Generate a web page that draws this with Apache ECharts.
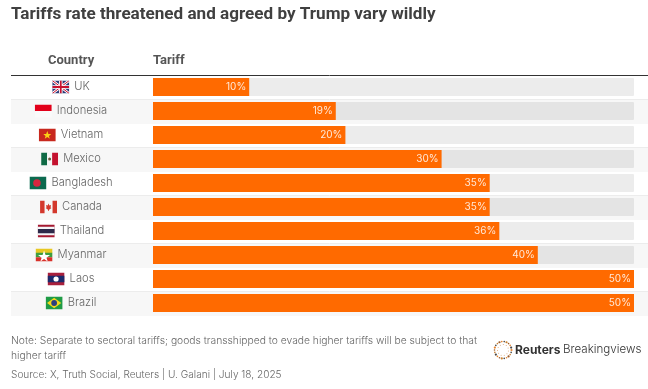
<!DOCTYPE html>
<html><head><meta charset="utf-8">
<script src="https://cdn.jsdelivr.net/npm/echarts@6/dist/echarts.min.js"></script>
<style>html,body{margin:0;padding:0;background:#fff}#c{width:648px;height:389px}</style>
</head><body><div id="c"></div>
<script>
const countries = ['UK','Indonesia','Vietnam','Mexico','Bangladesh','Canada','Thailand','Myanmar','Laos','Brazil'];
const tariffs = [10,19,20,30,35,35,36,40,50,50];
const stripes = [0,1,0,1,0,1,0,1,0,1];
const flagKeys = ['uk','id','vn','mx','bd','ca','th','mm','la','br'];

function svg(inner){
  return 'data:image/svg+xml;charset=utf-8,'+encodeURIComponent('<svg xmlns="http://www.w3.org/2000/svg" width="17" height="13" viewBox="0 0 17 13">'+inner+'</svg>');
}
const flags = {
 uk: svg('<rect width="17" height="13" fill="#2b3a78"/><path d="M0 0L17 13M17 0L0 13" stroke="#fff" stroke-width="2.6"/><path d="M0 0L17 13M17 0L0 13" stroke="#c8102e" stroke-width="1"/><path d="M8.5 0V13M0 6.5H17" stroke="#fff" stroke-width="3.6"/><path d="M8.5 0V13M0 6.5H17" stroke="#c8102e" stroke-width="1.8"/>'),
 id: svg('<rect width="17" height="6.5" fill="#e2001a"/><rect y="6.5" width="17" height="6.5" fill="#fafafa"/>'),
 vn: svg('<rect width="17" height="13" fill="#c8281e"/><path d="M8.5 2.6L9.6 5.5L12.5 5.5L10.2 7.4L11 10.3L8.5 8.6L6 10.3L6.8 7.4L4.5 5.5L7.4 5.5Z" fill="#fbd116"/>'),
 mx: svg('<rect width="6" height="13" fill="#0f6a45"/><rect x="6" width="5" height="13" fill="#f6f6f6"/><rect x="11" width="6" height="13" fill="#c4122f"/><circle cx="8.5" cy="6.5" r="1.5" fill="#6b5a3a"/>'),
 bd: svg('<rect width="17" height="13" fill="#0c6a4f"/><circle cx="7.5" cy="6.5" r="3.8" fill="#d6263f"/>'),
 ca: svg('<rect width="17" height="13" fill="#f6f6f6"/><rect width="4.5" height="13" fill="#d3382c"/><rect x="12.5" width="4.5" height="13" fill="#d3382c"/><path d="M8.5 3L9.4 5L11 4.6L10.5 7L11.4 7.6L9 9.2L8.8 10.4H8.2L8 9.2L5.6 7.6L6.5 7L6 4.6L7.6 5Z" fill="#d3382c"/>'),
 th: svg('<rect width="17" height="13" fill="#a51931"/><rect y="2.2" width="17" height="8.6" fill="#f4f5f8"/><rect y="4.4" width="17" height="4.3" fill="#2d2a4a"/>'),
 mm: svg('<rect width="17" height="4.4" fill="#e8c822"/><rect y="4.3" width="17" height="4.4" fill="#3f9d3f"/><rect y="8.7" width="17" height="4.3" fill="#d8312a"/><path d="M8.5 2L10 6.5L14.5 6.6L10.9 9.2L12.2 13L8.5 10.6L4.8 13L6.1 9.2L2.5 6.6L7 6.5Z" fill="#fff"/>'),
 la: svg('<rect width="17" height="13" fill="#a81f3c"/><rect y="3.2" width="17" height="6.6" fill="#1b2a6b"/><circle cx="8.5" cy="6.5" r="2.6" fill="#fff"/>'),
 br: svg('<rect width="17" height="13" fill="#1f9b45"/><path d="M8.5 1.2L15.6 6.5L8.5 11.8L1.4 6.5Z" fill="#f4d81c"/><circle cx="8.5" cy="6.5" r="2.9" fill="#2b3f7e"/>')
};
const rich = {name:{fontFamily:'Inter',fontSize:11.2,fontWeight:300,color:'#666',padding:[0,0,0,5],lineHeight:16}};
flagKeys.forEach(k=>{rich[k]={width:17,height:13,backgroundColor:{image:flags[k]}};});

// decorative logo ring
const ring=[];
const ringColors=['#e8832a','#444','#c9812f','#9a5a2a'];
for(let i=0;i<22;i++){
  const a=i/22*Math.PI*2;
  ring.push({type:'circle',shape:{cx:503+8.5*Math.cos(a),cy:350+8.5*Math.sin(a),r:i%3==0?1.1:0.8},style:{fill:ringColors[i%4]},silent:true});
  if(i%2==0){const b=a+0.2;ring.push({type:'circle',shape:{cx:503+5.5*Math.cos(b),cy:350+5.5*Math.sin(b),r:0.5},style:{fill:'#d8a070'},silent:true});}
}

const chart = echarts.init(document.getElementById('c'),null,{renderer:'canvas'});
chart.setOption({
  animation:false,
  backgroundColor:'#fff',
  title:[
    {text:'Tariffs rate threatened and agreed by Trump vary wildly',left:11,top:6,padding:0,textStyle:{fontFamily:'Roboto',fontSize:17.1,fontWeight:700,color:'#404040'}},
    {text:'Country',left:48,top:54,padding:0,textStyle:{fontFamily:'Roboto',fontSize:13,fontWeight:700,color:'#555'}},
    {text:'Tariff',left:153,top:54,padding:0,textStyle:{fontFamily:'Roboto',fontSize:13,fontWeight:700,color:'#555'}}
  ],
  grid:[
    {left:11,right:0,top:76,height:240},
    {left:153,width:481,top:75,height:240}
  ],
  xAxis:[
    {gridIndex:0,type:'value',min:0,max:1,show:false},
    {gridIndex:1,type:'value',min:0,max:50,show:false}
  ],
  yAxis:[
    {gridIndex:0,type:'category',data:countries,inverse:true,show:false},
    {gridIndex:1,type:'category',data:countries,inverse:true,z:6,
     axisLine:{show:false},axisTick:{show:false},
     axisLabel:{show:true,margin:82,align:'center',hideOverlap:false,interval:0,
       formatter:(v,i)=>'{'+flagKeys[i]+'|}{name|'+v+'}',rich}}
  ],
  series:[
    {type:'bar',xAxisIndex:0,yAxisIndex:0,data:stripes,barWidth:'100%',silent:true,itemStyle:{color:'#f7f7f7'},z:1},
    {type:'bar',xAxisIndex:1,yAxisIndex:1,data:tariffs,barWidth:18,
     showBackground:true,backgroundStyle:{color:'rgba(0,0,0,0.075)',borderRadius:1},
     itemStyle:{color:'#ff6a00'},z:3,
     label:{show:true,position:'insideRight',distance:3,formatter:'{c}%',fontFamily:'Inter',fontSize:10,fontWeight:400,color:'#ffe9d8'}}
  ],
  graphic:[
    {type:'line',shape:{x1:11,y1:75.5,x2:648,y2:75.5},style:{stroke:'#333',lineWidth:1},silent:true,z:10},
    {type:'group',children:[99.5,123.5,147.5,171.5,195.5,219.5,243.5,267.5,291.5].map(y=>({type:'line',shape:{x1:11,y1:y,x2:648,y2:y},style:{stroke:'#ececec',lineWidth:1},silent:true})),z:9},
    {type:'text',left:11,top:333,style:{text:'Note: Separate to sectoral tariffs; goods transshipped to evade higher tariffs will be subject to that\nhigher tariff',fontFamily:'Inter',fontSize:10.3,fontWeight:300,lineHeight:15,fill:'#666'}},
    {type:'text',left:11,top:370,style:{text:'Source: X, Truth Social, Reuters | U. Galani | July 18, 2025',fontFamily:'Inter',fontSize:10.1,fontWeight:300,fill:'#666'}},
    {type:'group',children:ring},
    {type:'text',left:515,top:344,style:{text:'Reuters',fontFamily:'Inter',fontSize:12,fontWeight:700,fill:'#333'}},
    {type:'text',left:563,top:344,style:{text:'Breakingviews',fontFamily:'Inter',fontSize:11.6,fontWeight:300,fill:'#333'}}
  ]
});
</script></body></html>
